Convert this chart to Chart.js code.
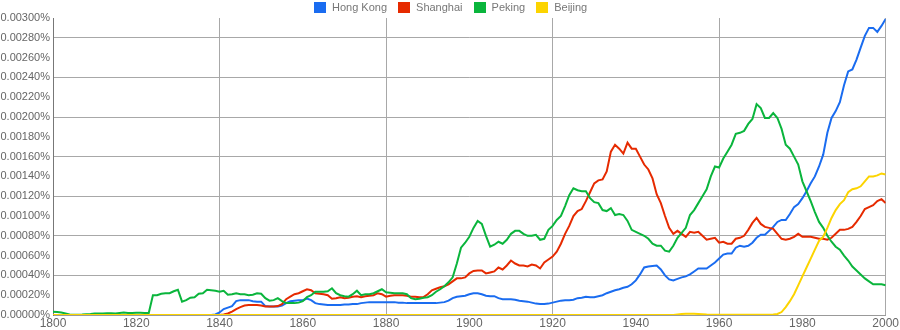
<!DOCTYPE html>
<html>
<head>
<meta charset="utf-8">
<script src="https://cdn.jsdelivr.net/npm/chart.js@4"></script>
<style>
    html, body { margin: 0; padding: 0; background: #fff; }
    #wrap { position: relative; width: 900px; height: 330px; }
    #legend { position: absolute; top: 1px; left: 314px; display: flex; font: 11px "Liberation Sans", Arial, sans-serif; color: #777; line-height: 13px; }
    #legend .item { display: flex; align-items: center; margin-right: 11px; }
    #legend .box { width: 12px; height: 11px; margin-right: 6px; }
</style>
</head>
<body>
<div id="wrap">
    <canvas id="chart" width="900" height="330"></canvas>
    <div id="legend"></div>
</div>
<script>
// Valores en unidades de 0.00001 %
const years = [];
for (let y = 1800; y <= 2000; y++) years.push(y);

const hongKong = [
    0, 0, 0, 0, 0, 0, 0, 0, 0, 0,
    0, 0, 0, 0, 0, 0, 0, 0, 0, 0,
    0, 0, 0, 0, 0, 0, 0, 0, 0, 0,
    0, 0, 0, 0, 0, 0, 0, 0, 0, 0.5,
    2.5, 6, 7.5, 9, 14, 15, 15, 15, 14, 13.5,
    13.5, 9, 8.5, 8.5, 8.5, 9.5, 12, 14, 14.5, 15,
    15, 16.5, 15, 12, 11, 10.5, 10, 10, 10, 10,
    10.5, 10.5, 11, 11, 12, 12.5, 13, 13, 13, 13,
    13, 13, 13, 12.5, 12.5, 12, 12, 12, 12, 12,
    12, 12, 12, 12.5, 13, 14.5, 17, 18.5, 19, 19.5,
    21, 22, 22, 21, 19.5, 19, 19, 17, 16, 16,
    16, 15.5, 14.5, 14, 13.5, 12.5, 11.5, 11, 11, 11.5,
    12.5, 13.5, 14.5, 15, 15, 15.5, 17, 17.5, 18.5, 18,
    18, 19, 20, 22, 23.5, 25, 26, 27.5, 28.5, 31,
    35, 41, 48, 49, 49.5, 50, 46, 40, 36, 35,
    36.5, 38, 39, 41, 44, 47, 47, 47, 50, 53,
    57, 61, 62, 62, 68, 70, 69, 70, 73, 78,
    81, 81, 85, 89, 94, 96, 96, 102, 109, 112,
    118, 125, 133, 140, 150, 162, 184, 199, 206, 215,
    232, 246, 248, 258, 270, 282, 290, 290, 286, 292,
    299
];

const shanghai = [
    0, 0, 0, 0, 0, 0, 0, 0, 0, 0,
    0, 0, 0, 0, 0, 0, 0, 0, 0, 0,
    0, 0, 0, 0, 0, 0, 0, 0, 0, 0,
    0, 0, 0, 0, 0, 0, 0, 0, 0, 0,
    0, 0.5, 1.5, 3.5, 6, 8, 9.5, 10, 10, 10,
    9.5, 8.5, 8.5, 8.5, 9, 11, 16, 18.5, 21, 22,
    24, 26, 25, 22, 21.5, 21, 20, 16.5, 17, 18,
    17, 17.5, 18.5, 19, 18, 19, 19.5, 20, 22, 21,
    18.5, 19.5, 20, 20, 20, 19.5, 18.5, 18.5, 18, 18,
    21, 25, 26.5, 28, 29, 31, 34, 37, 37, 38,
    42, 44.5, 45, 45, 42, 43, 44, 48, 46, 50,
    55, 52, 50, 50, 49, 51, 50, 47, 53, 56,
    59, 64, 72, 82, 90, 100, 105, 107, 115, 124,
    133, 136, 137, 145, 165, 172, 168, 163, 174, 168,
    168, 160, 152, 147, 138, 122, 113, 100, 88, 82,
    85, 82, 79, 84, 83, 84, 80, 76, 77, 78,
    73, 74, 72, 72, 77, 78, 80, 86, 93, 98,
    92, 89, 88, 87, 82, 77, 76, 77, 79, 82,
    79, 79, 79, 78, 77, 77, 76, 78, 82, 86,
    86, 87, 89, 94, 100, 107, 109, 111, 115, 117,
    113
];

const peking = [
    3.3, 3, 2.5, 1.5, 0.5, 0.3, 0.3, 0.5, 0.8, 1,
    1.5, 1.5, 1.5, 1.8, 1.8, 1.5, 2, 2.5, 2, 2,
    2.2, 2.2, 2, 2, 20, 20, 21.5, 22, 22, 24,
    25.5, 13.5, 15, 17.5, 18, 21.5, 22, 25.5, 25, 24.5,
    23.5, 24.5, 20.5, 21, 22, 21, 21, 20, 20.5, 22,
    21.5, 17, 14.5, 15, 17, 14, 12, 12, 12, 12.5,
    14, 18, 20, 23.5, 23.5, 23.5, 24, 27, 22, 20,
    19, 18.5, 21, 24.5, 20, 21, 21, 22, 24, 26,
    23, 22.5, 22, 22, 22, 21, 17, 16, 16.5, 17.5,
    18, 20, 23.5, 26, 29, 33, 38, 52, 68, 73,
    79, 88, 95, 92, 80, 69, 71, 74, 72, 76,
    82, 85, 85, 82, 80, 80, 81, 76, 77, 86,
    90, 96, 100, 110, 121, 128, 126, 125, 125, 118,
    114, 113, 106, 105, 108, 101, 102, 101, 95, 86,
    84, 82, 80, 77, 72, 70, 70, 65, 64, 70,
    78, 83, 88, 101, 106, 113, 120, 127, 140, 150,
    149, 158, 165, 172, 183, 184, 186, 193, 198, 213,
    209, 199, 199, 204, 199, 188, 172, 168, 160, 152,
    135, 125, 115, 104, 94, 88, 80, 74, 69, 66,
    60, 55, 49, 45, 41, 37, 34, 31, 31, 31,
    30
];

const beijing = [
    0, 0, 0, 0, 0, 0, 0, 0, 0, 0,
    0, 0, 0, 0, 0, 0, 0, 0, 0, 0,
    0, 0, 0, 0, 0, 0, 0, 0, 0, 0,
    0, 0, 0, 0, 0, 0, 0, 0, 0, 0,
    0, 0, 0, 0, 0, 0, 0, 0, 0, 0,
    0, 0, 0, 0, 0, 0, 0, 0, 0, 0,
    0, 0, 0, 0, 0, 0, 0, 0, 0, 0,
    0, 0, 0, 0, 0, 0, 0, 0, 0, 0,
    0, 0, 0, 0, 0, 0, 0, 0, 0, 0,
    0, 0, 0, 0, 0, 0, 0, 0, 0, 0,
    0, 0, 0, 0, 0, 0, 0, 0, 0, 0,
    0, 0, 0, 0, 0, 0, 0, 0, 0, 0,
    0, 0, 0, 0, 0, 0, 0, 0, 0, 0,
    0, 0, 0, 0, 0, 0, 0, 0, 0, 0,
    0, 0, 0, 0, 0, 0, 0, 0, 0, 0,
    0.5, 1, 1.2, 1.2, 1.2, 1, 0.8, 0.5, 0.3, 0.3,
    0.3, 0.3, 0.3, 0.3, 0.3, 0.3, 0.3, 0.3, 0.3, 0.3,
    0.3, 0.3, 0.3, 0.5, 1, 3, 8, 14, 21, 30,
    39, 48, 57, 66, 75, 79, 88, 98, 106, 112,
    116, 124, 127, 128, 130, 135, 140, 140, 141, 143,
    142
];

const seriesNames = ['Hong Kong', 'Shanghai', 'Peking', 'Beijing'];
const seriesColors = ['#1a6cf0', '#e62a00', '#0ab53c', '#fcd400'];
const seriesData = [hongKong, shanghai, peking, beijing];

const FONT = '"Liberation Sans", Arial, sans-serif';

// Leyenda en HTML (arriba, centrada)
const legend = document.getElementById('legend');
seriesNames.forEach((name, i) => {
    const item = document.createElement('div');
    item.className = 'item';
    item.innerHTML = `<span class="box" style="background:${seriesColors[i]}"></span><span>${name}</span>`;
    legend.appendChild(item);
});

const datasets = seriesNames.map((name, i) => ({
    label: name,
    data: seriesData[i].map((v, k) => ({ x: years[k], y: v })),
    borderColor: seriesColors[i],
    backgroundColor: seriesColors[i],
    borderWidth: 2,
    pointRadius: 0,
    tension: 0,
    fill: false,
    order: 4 - i   // Beijing queda encima
}));

new Chart(document.getElementById('chart'), {
    type: 'line',
    data: { datasets },
    options: {
        responsive: false,
        animation: false,
        layout: { padding: { top: 18, right: 14, bottom: 0, left: 0 } },
        plugins: {
            legend: { display: false },
            tooltip: { enabled: false }
        },
        scales: {
            x: {
                type: 'linear',
                min: 1800,
                max: 2000,
                ticks: {
                    stepSize: 20,
                    padding: 1,
                    color: '#666',
                    font: { family: FONT, size: 12 },
                    maxRotation: 0,
                    callback: v => String(v)
                },
                grid: {
                    drawTicks: false,
                    color: ctx => ((ctx.tick.value - 1800) % 40 === 0 && ctx.tick.value !== 1800) ? '#a8a8a8' : 'rgba(0,0,0,0)'
                },
                border: { display: true, color: '#999' },
                afterFit: s => { s.height = 15; }
            },
            y: {
                min: 0,
                max: 300,
                ticks: {
                    stepSize: 20,
                    padding: 3,
                    color: '#666',
                    font: { family: FONT, size: 11 },
                    callback: v => (v / 100000).toFixed(5) + '%'
                },
                grid: {
                    drawTicks: false,
                    color: ctx => (ctx.tick.value % 40 === 0 && ctx.tick.value !== 0) ? '#a8a8a8' : 'rgba(0,0,0,0)'
                },
                border: { display: true, color: '#777' },
                afterFit: s => { s.width = 53; }
            }
        }
    }
});
</script>
</body>
</html>
